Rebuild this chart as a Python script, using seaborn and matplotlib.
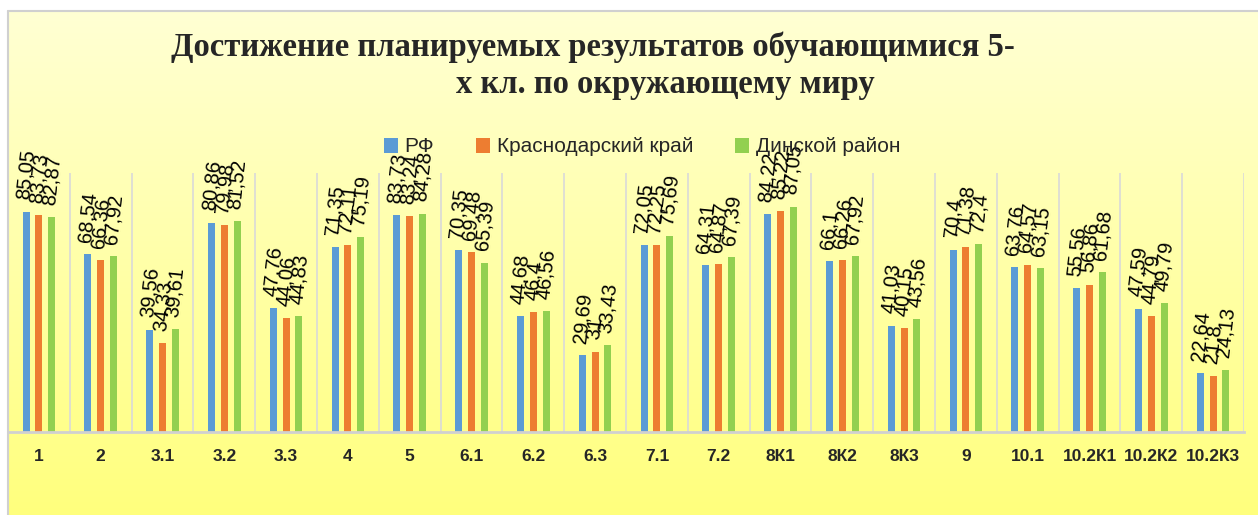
import numpy as np
import pandas as pd
import matplotlib
matplotlib.use("Agg")
import matplotlib.pyplot as plt
import seaborn as sns

tasks = ["1", "2", "3.1", "3.2", "3.3", "4", "5", "6.1", "6.2", "6.3",
         "7.1", "7.2", "8К1", "8К2", "8К3", "9", "10.1", "10.2К1", "10.2К2", "10.2К3"]
rf = [85.05, 68.54, 39.56, 80.86, 47.76, 71.35, 83.73, 70.35, 44.68, 29.69,
      72.05, 64.31, 84.22, 66.1, 41.03, 70.4, 63.76, 55.56, 47.59, 22.64]
krai = [83.73, 66.36, 34.33, 79.98, 44.06, 72.11, 83.24, 69.48, 46.4, 31,
        72.25, 64.87, 85.22, 66.26, 40.15, 71.38, 64.57, 56.86, 44.79, 21.8]
rayon = [82.87, 67.92, 39.61, 81.52, 44.83, 75.19, 84.28, 65.39, 46.56, 33.43,
         75.69, 67.39, 87.05, 67.92, 43.56, 72.4, 63.15, 61.68, 49.79, 24.13]
series = ["РФ", "Краснодарский край", "Динской район"]
colors = ["#5B9BD5", "#ED7D31", "#92D050"]

df = pd.DataFrame({
    "task": tasks * 3,
    "value": rf + krai + rayon,
    "group": [series[0]] * len(tasks) + [series[1]] * len(tasks) + [series[2]] * len(tasks),
})

sns.set_style("white")
plt.rcParams["font.family"] = ["Liberation Sans", "DejaVu Sans"]

W, H = 1258, 515
fig = plt.figure(figsize=(W / 100, H / 100), dpi=100)
fig.patch.set_facecolor("white")

# gradient background of the chart area
bg = fig.add_axes([8 / W, 0, 1 - 8 / W, 1 - 11 / H], zorder=-5)
grad = np.linspace(0, 1, 256).reshape(-1, 1)
top = np.array([1.0, 1.0, 0.83])
bot = np.array([1.0, 1.0, 0.49])
img = top + (bot - top) * grad[..., None]
bg.imshow(img.reshape(256, 1, 3), aspect="auto", extent=[0, 1, 0, 1])
bg.set_axis_off()
fig.add_artist(plt.Line2D([8 / W, 8 / W], [0, 1 - 11 / H], color="#D0D0D0", lw=1.5))
fig.add_artist(plt.Line2D([8 / W, 1], [1 - 11 / H, 1 - 11 / H], color="#D0D0D0", lw=1.5))

ax = fig.add_axes([8 / W, (H - 432) / H, (1244 - 8) / W, (432 - 173) / H])
ax.set_facecolor("none")
sns.barplot(data=df, x="task", y="value", hue="group", palette=colors,
            order=tasks, hue_order=series, width=0.62, gap=0.45,
            saturation=1, linewidth=0, ax=ax)

ax.set_ylim(0, 100)
ax.set_xlim(-0.5, len(tasks) - 0.5)
ax.set_yticks([])
ax.set_xlabel("")
ax.set_ylabel("")
for s in ["left", "right", "top"]:
    ax.spines[s].set_visible(False)
ax.spines["bottom"].set_color("#D0D0D0")
ax.spines["bottom"].set_linewidth(2)

ax.set_xticks(np.arange(len(tasks) + 1) - 0.5, minor=True)
ax.grid(which="minor", axis="x", color="#D9D9D9", linewidth=1.2)
ax.tick_params(axis="x", which="both", length=0, pad=12)
for lbl in ax.get_xticklabels():
    lbl.set_fontweight("bold")
    lbl.set_fontsize(12.5)

for cont in ax.containers:
    ax.bar_label(cont, labels=[f"{v:g}".replace(".", ",") for v in cont.datavalues],
                 rotation=84, padding=8, fontsize=14.5, color="black")

ax.legend(loc="center", bbox_to_anchor=(642 / W, 1 - 147 / H),
          bbox_transform=fig.transFigure, ncol=3, frameon=False,
          fontsize=15, handlelength=0.7, handleheight=0.7,
          handletextpad=0.3, columnspacing=2.0)

fig.text(593 / W, 1 - 47 / H, "Достижение планируемых результатов обучающимися 5-",
         ha="center", va="center", fontsize=23.5, fontweight="bold",
         family=["Liberation Serif", "DejaVu Serif"])
fig.text(665 / W, 1 - 85 / H, "х кл. по окружающему миру",
         ha="center", va="center", fontsize=23.5, fontweight="bold",
         family=["Liberation Serif", "DejaVu Serif"])

fig.savefig("out.png", dpi=100)
